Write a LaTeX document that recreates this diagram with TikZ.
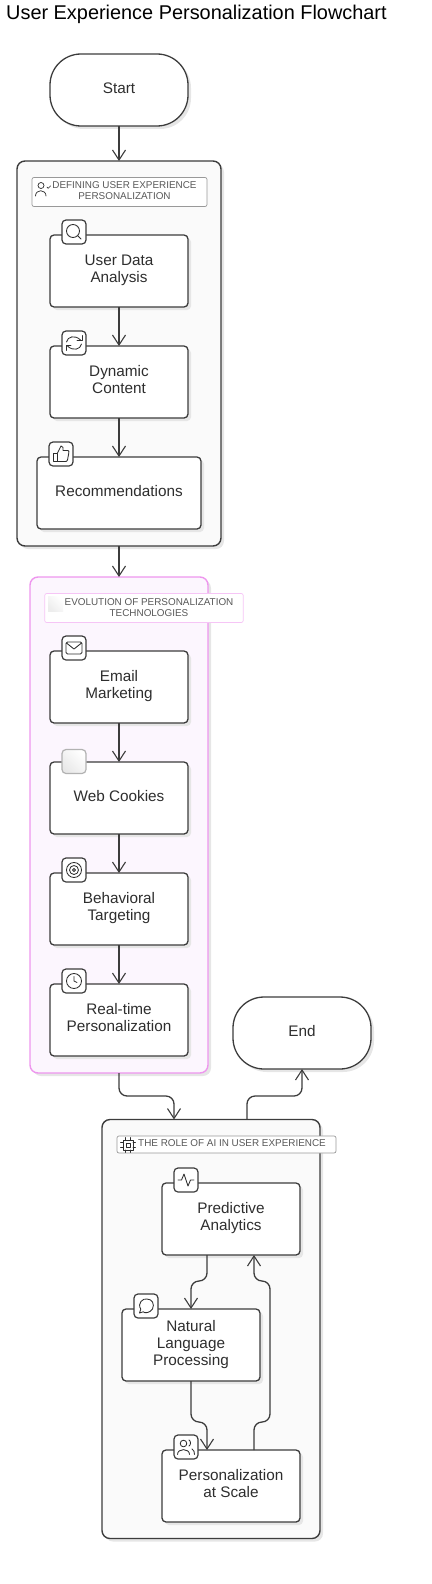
\documentclass[tikz,border=0pt]{standalone}
\usepackage{fontspec}
\setmainfont{Liberation Sans}
\usetikzlibrary{arrows.meta,shadows,shadings}
\definecolor{ink}{HTML}{2E2E2E}
\definecolor{edge}{HTML}{3C3C3C}
\definecolor{shade}{HTML}{E6E6E6}
\definecolor{pinkline}{HTML}{EE96EE}
\definecolor{pinkfill}{HTML}{FCF6FE}
\newcommand{\nt}[1]{\raisebox{1.4pt}{\begin{tabular}{@{}c@{}}#1\end{tabular}}}
\tikzset{
  dropshadow/.style={general shadow={fill=shade,shadow xshift=3pt,shadow yshift=-3pt}},
  proc/.style={draw=edge,line width=1.3pt,fill=white,rounded corners=4pt,minimum width=138pt,minimum height=72pt,inner sep=0pt,outer sep=0pt,font=\fontsize{15.3}{17}\selectfont,text=ink,dropshadow},
  pill/.style={proc,rounded corners=31pt},
  wideproc/.style={proc,minimum width=164pt},
  cluster/.style={draw=edge,line width=1.4pt,fill=black!2,rounded corners=8pt,inner sep=0pt,outer sep=0pt,dropshadow},
  pinkcluster/.style={cluster,draw=pinkline,fill=pinkfill},
  lab/.style={draw=black!40,line width=.7pt,fill=white,rounded corners=2pt,inner sep=0pt,outer sep=0pt},
  pinklab/.style={lab,draw=pinkline!55,fill=white},
  labtext/.style={inner sep=0pt,outer sep=0pt,align=center,font=\fontsize{9.9}{11}\selectfont,text=black!65},
  iconbox/.style={draw=edge,line width=1.2pt,fill=white,rounded corners=4pt,minimum width=24pt,minimum height=24pt,inner sep=0pt,outer sep=0pt},
  ic/.style={draw=ink,line width=.85pt,line cap=round,line join=round},
  conn/.style={draw=edge,line width=1.3pt,rounded corners=8pt,-{Straight Barb[length=10pt,width=13pt,line width=1.1pt]}},
  iconsearch/.pic={\draw[ic] (-1,-1) circle (6.5); \draw[ic] (3.8,3.8) -- (7,7);},
  iconrefresh/.pic={
    \draw[ic] (-7.5,-1) .. controls (-6.5,-6.5) and (1,-8.5) .. (6.5,-3);
    \draw[ic] (8,-7.5) -- (8,-2.5) -- (3,-2.5);
    \draw[ic] (7.5,1) .. controls (6.5,6.5) and (-1,8.5) .. (-6.5,3);
    \draw[ic] (-8,7.5) -- (-8,2.5) -- (-3,2.5);},
  iconthumb/.pic={
    \draw[ic] (-7.5,-1) rectangle (-3.5,7.5);
    \draw[ic] (-3.5,-1) -- (0,-8) .. controls (2,-8) and (2.5,-6) .. (2,-3.5) -- (7,-3.5) .. controls (8,-3.5) and (8,-2) .. (7.8,-1) -- (6.5,6) .. controls (6.2,7.5) and (5,7.5) .. (4,7.5) -- (-3.5,7.5);},
  iconmail/.pic={
    \draw[ic,rounded corners=1.5pt] (-8,-6) rectangle (8,6);
    \draw[ic] (-7.5,-5) -- (0,1) -- (7.5,-5);},
  icontarget/.pic={\draw[ic] (0,0) circle (7.5) (0,0) circle (4.5) (0,0) circle (1.5);},
  iconclock/.pic={\draw[ic] (0,0) circle (7.5); \draw[ic] (0,-4.5) -- (0,0) -- (3,1.5);},
  iconpulse/.pic={\draw[ic] (-8,0) -- (-4.5,0) -- (-2,-6) -- (2,6) -- (4.5,0) -- (8,0);},
  iconchat/.pic={\draw[ic] (-6.5,7) -- (-5.2,3.2) .. controls (-9,-3) and (-3,-8) .. (1,-7) .. controls (6,-7) and (9,-2) .. (6.5,3) .. controls (4,7) and (-1.5,7.5) .. (-2.8,5.8) -- cycle;},
  iconusers/.pic={
    \draw[ic] (-2.5,-3.5) circle (3.3);
    \draw[ic] (-8.5,7.5) .. controls (-8.5,1) and (3.5,1) .. (3.5,7.5);
    \draw[ic] (3,-7) .. controls (5,-6) and (5,-2) .. (3,-1);
    \draw[ic] (6,2) .. controls (8,3) and (8.5,5) .. (8.5,7.5);},
  iconusercheck/.pic={
    \draw[ic,line width=.7pt] (-2,-3.5) circle (3);
    \draw[ic,line width=.7pt] (-7.5,7) .. controls (-7.5,0) and (3,0) .. (3,7);
    \draw[ic,line width=.7pt] (4,-2) -- (5.2,-.7) -- (7.7,-3.2);},
  iconcpu/.pic={
    \draw[ic] (-5,-5) rectangle (5,5);
    \draw[ic] (-2,-2) rectangle (2,2);
    \foreach \q in {-2.5,2.5}{\draw[ic] (\q,-5) -- (\q,-7.5) (\q,5) -- (\q,7.5) (-5,\q) -- (-7.5,\q) (5,\q) -- (7.5,\q);}},
}
\begin{document}
\begin{tikzpicture}[x=1pt,y=-1pt]
\useasboundingbox (0,0) rectangle (431,1584);
% title
\node[inner sep=0pt,anchor=west,font=\fontsize{19.9}{22}\selectfont,text=black] (title) at (6,14.5) {User Experience Personalization Flowchart};
% clusters
\node[cluster,minimum width=204pt,minimum height=385pt] (c1) at (119,353.5) {};
\node[pinkcluster,minimum width=178pt,minimum height=496pt] (c2) at (119,825) {};
\node[cluster,minimum width=218pt,minimum height=419pt] (c3) at (211,1329) {};
% cluster labels
\node[lab,minimum width=175pt,minimum height=29pt] (l1) at (119.5,192) {};
\node[labtext] (l1t) at (124.5,191) {DEFINING USER EXPERIENCE\\PERSONALIZATION};
\pic at (43,189) {iconusercheck};
\node[pinklab,minimum width=198.5pt,minimum height=29pt] (l2) at (144,608) {};
\node[labtext] (l2t) at (149,607.5) {EVOLUTION OF PERSONALIZATION\\TECHNOLOGIES};
\shade[left color=black!7,right color=white,shading angle=135] (48,596) rectangle (63,611);
\node[lab,minimum width=219pt,minimum height=17pt] (l3) at (226.5,1144.5) {};
\node[labtext] (l3t) at (232,1143.5) {THE ROLE OF AI IN USER EXPERIENCE};
\pic at (128,1145) {iconcpu};
% nodes
\node[pill] (start) at (119,90) {\nt{Start}};
\node[proc] (uda) at (119,271) {\nt{User Data\\Analysis}};
\node[proc] (dyn) at (119,382) {\nt{Dynamic\\Content}};
\node[wideproc] (rec) at (119,493) {\nt{Recommendations}};
\node[proc] (email) at (119,687) {\nt{Email\\Marketing}};
\node[proc] (web) at (119,798) {\nt{Web Cookies}};
\node[proc] (beh) at (119,909) {\nt{Behavioral\\Targeting}};
\node[proc] (rt) at (119,1020) {\nt{Real-time\\Personalization}};
\node[pill] (end) at (302,1033) {\nt{End}};
\node[proc] (pred) at (231,1219) {\nt{Predictive\\Analytics}};
\node[proc] (nlp) at (191,1345) {\nt{Natural\\Language\\Processing}};
\node[proc] (pers) at (231,1486) {\nt{Personalization\\at Scale}};
% icons
\node[iconbox] (i1) at (74,232) {}; \pic at (74,232) {iconsearch};
\node[iconbox] (i2) at (74,343) {}; \pic at (74,343) {iconrefresh};
\node[iconbox] (i3) at (61,454) {}; \pic at (61,454) {iconthumb};
\node[iconbox] (i4) at (74,648) {}; \pic at (74,648) {iconmail};
\node[iconbox,draw=black!30,fill=none,path picture={\shade[left color=black!9,right color=white,shading angle=135] (path picture bounding box.south west) rectangle (path picture bounding box.north east);}] (i5) at (74,761.5) {};
\node[iconbox] (i6) at (74,870) {}; \pic at (74,870) {icontarget};
\node[iconbox] (i7) at (74,981) {}; \pic at (74,981) {iconclock};
\node[iconbox] (i8) at (186,1180) {}; \pic at (186,1180) {iconpulse};
\node[iconbox] (i9) at (146,1306) {}; \pic at (146,1306) {iconchat};
\node[iconbox] (i10) at (186,1447) {}; \pic at (186,1447) {iconusers};
% connectors
\draw[conn] (start.south) -- (c1.north);
\draw[conn] (uda.south) -- (dyn.north);
\draw[conn] (dyn.south) -- (rec.north);
\draw[conn] (c1.south) -- (c2.north);
\draw[conn] (email.south) -- (web.north);
\draw[conn] (web.south) -- (beh.north);
\draw[conn] (beh.south) -- (rt.north);
\coordinate (m1) at (146,1096);
\coordinate (m2) at (275,1096);
\coordinate (m3) at (199,1281);
\coordinate (m4) at (270,1422);
\coordinate (m5) at (270,1281);
\coordinate (m6) at (199,1422);
\draw[conn] (c2.south) |- ([xshift=-37pt]c3.north |- m1) -- ([xshift=-37pt]c3.north);
\draw[conn] ([xshift=36pt]c3.north) |- (end.south |- m2) -- (end.south);
\draw[conn] ([xshift=-24pt]pred.south) |- (nlp.north |- m3) -- (nlp.north);
\draw[conn] ([xshift=23pt]pers.north) |- (m4) -- (m5) -| ([xshift=23pt]pred.south);
\draw[conn] (nlp.south) |- ([xshift=-24pt]pers.north |- m6) -- ([xshift=-24pt]pers.north);
\end{tikzpicture}
\end{document}
